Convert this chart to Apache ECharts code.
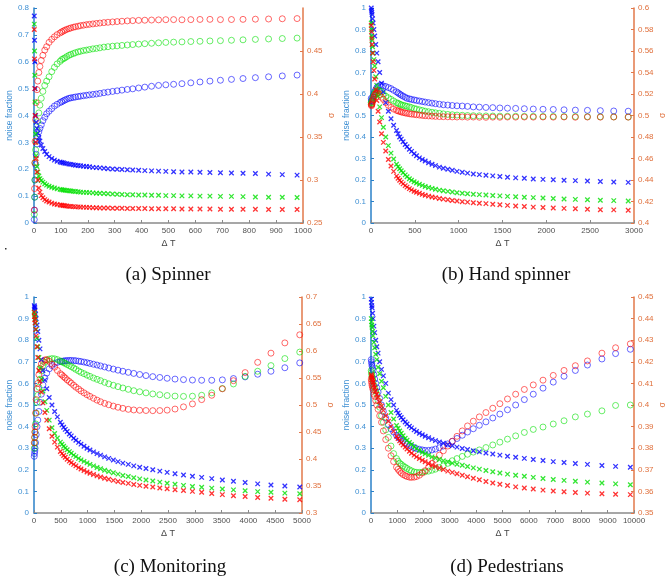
<!DOCTYPE html>
<html><head><meta charset="utf-8">
<script src="https://cdn.jsdelivr.net/npm/echarts@6/dist/echarts.min.js"></script>
<style>html,body{margin:0;padding:0;background:#fff}#c{width:668px;height:582px}</style>
</head><body><div id="c"></div>
<script>
// ---------- (a) Spinner ----------
const XA = [1,2,3,4,6,8,11,14,18,22,27,33,40,47,56,66,76,86,97,103,109,115,122,130,137,146,154,164,173,184,195,206,219,232,245,260,275,292,309,327,347,367,389,412,437,463,490,519,550,583,617,654,693,734,777,823,872,923,978];
const A_noise_blue = [0.77,0.68,0.6,0.5,0.4,0.375,0.352,0.335,0.318,0.305,0.29,0.277,0.266,0.256,0.247,0.24,0.234,0.23,0.227,0.225,0.224,0.222,0.221,0.219,0.218,0.217,0.215,0.214,0.213,0.211,0.21,0.209,0.207,0.206,0.205,0.204,0.202,0.201,0.2,0.199,0.198,0.197,0.196,0.195,0.194,0.193,0.192,0.191,0.19,0.19,0.189,0.188,0.187,0.186,0.185,0.184,0.182,0.18,0.178];
const A_noise_green = [0.74,0.64,0.55,0.45,0.33,0.25,0.21,0.19,0.175,0.165,0.158,0.152,0.146,0.141,0.137,0.133,0.13,0.127,0.125,0.124,0.123,0.122,0.121,0.12,0.119,0.118,0.117,0.116,0.115,0.114,0.114,0.113,0.112,0.111,0.111,0.11,0.109,0.108,0.107,0.106,0.105,0.105,0.104,0.104,0.103,0.103,0.102,0.102,0.101,0.101,0.1,0.1,0.099,0.099,0.098,0.097,0.096,0.096,0.095];
const A_noise_red = [0.72,0.61,0.5,0.4,0.3,0.24,0.19,0.16,0.13,0.115,0.102,0.094,0.087,0.082,0.078,0.074,0.071,0.069,0.067,0.066,0.065,0.064,0.063,0.062,0.062,0.061,0.06,0.06,0.059,0.059,0.058,0.058,0.057,0.057,0.056,0.056,0.056,0.055,0.055,0.055,0.054,0.054,0.054,0.054,0.053,0.053,0.053,0.053,0.052,0.052,0.052,0.052,0.051,0.051,0.051,0.051,0.05,0.05,0.05];
const A_sig_blue = [0.254,0.265,0.28,0.3,0.318,0.33,0.342,0.35,0.356,0.36,0.364,0.369,0.373,0.377,0.38,0.383,0.386,0.388,0.39,0.391,0.392,0.393,0.394,0.395,0.3955,0.396,0.3965,0.397,0.3975,0.398,0.3985,0.399,0.3995,0.4,0.4007,0.4015,0.4022,0.403,0.4037,0.4045,0.4053,0.406,0.407,0.408,0.409,0.41,0.4107,0.4113,0.412,0.413,0.414,0.415,0.416,0.417,0.418,0.419,0.42,0.421,0.422];
const A_sig_green = [0.26,0.28,0.3,0.32,0.335,0.345,0.358,0.368,0.378,0.387,0.395,0.403,0.41,0.415,0.42,0.426,0.431,0.435,0.438,0.44,0.441,0.442,0.4435,0.445,0.446,0.447,0.448,0.449,0.4497,0.4505,0.451,0.4517,0.4525,0.453,0.4537,0.4545,0.455,0.4556,0.456,0.4565,0.457,0.4575,0.458,0.4585,0.459,0.4595,0.46,0.4603,0.4606,0.461,0.4613,0.4617,0.462,0.4625,0.463,0.4635,0.464,0.4645,0.465];
const A_sig_red = [0.265,0.29,0.32,0.345,0.37,0.39,0.405,0.415,0.425,0.432,0.439,0.445,0.451,0.455,0.46,0.4635,0.4665,0.469,0.471,0.4722,0.4732,0.4742,0.4752,0.476,0.4768,0.4776,0.4782,0.4788,0.4795,0.48,0.4806,0.481,0.4815,0.482,0.4825,0.483,0.4834,0.4838,0.4842,0.4846,0.485,0.4853,0.4856,0.4858,0.486,0.4862,0.4864,0.4865,0.4863,0.4865,0.4867,0.4868,0.4865,0.4866,0.4868,0.487,0.4872,0.4875,0.4877];

// ---------- (b) Hand spinner ----------
const XB = [3,6,9,12,18,24,33,42,54,66,81,99,120,141,168,198,228,258,291,309,327,345,366,390,411,438,462,492,519,552,585,618,657,696,735,780,825,876,927,981,1041,1101,1167,1236,1311,1389,1470,1557,1650,1749,1851,1962,2079,2202,2331,2469,2616,2769,2934];
const B_noise_blue = [1.0,0.99,0.98,0.97,0.95,0.93,0.9,0.87,0.83,0.79,0.75,0.7,0.65,0.61,0.56,0.52,0.485,0.455,0.43,0.415,0.4,0.39,0.378,0.365,0.355,0.343,0.333,0.322,0.313,0.303,0.295,0.288,0.28,0.273,0.267,0.26,0.255,0.25,0.245,0.24,0.236,0.232,0.228,0.225,0.222,0.219,0.216,0.213,0.21,0.208,0.205,0.203,0.201,0.199,0.197,0.195,0.193,0.191,0.189];
const B_noise_green = [0.93,0.9,0.87,0.85,0.82,0.79,0.76,0.73,0.68,0.64,0.59,0.54,0.49,0.445,0.4,0.36,0.325,0.298,0.273,0.262,0.252,0.243,0.234,0.224,0.215,0.206,0.199,0.192,0.186,0.18,0.175,0.17,0.165,0.161,0.157,0.153,0.15,0.147,0.144,0.141,0.138,0.136,0.134,0.132,0.13,0.128,0.126,0.124,0.122,0.12,0.118,0.116,0.114,0.112,0.11,0.108,0.106,0.104,0.102];
const B_noise_red = [0.92,0.89,0.86,0.83,0.79,0.75,0.71,0.67,0.62,0.57,0.52,0.47,0.415,0.375,0.335,0.295,0.265,0.24,0.218,0.208,0.199,0.19,0.182,0.174,0.167,0.16,0.154,0.148,0.143,0.138,0.133,0.129,0.125,0.121,0.118,0.114,0.111,0.108,0.105,0.102,0.099,0.097,0.094,0.092,0.09,0.087,0.085,0.082,0.079,0.077,0.074,0.072,0.07,0.068,0.066,0.064,0.062,0.061,0.059];
const B_sig_blue = [0.516,0.514,0.513,0.514,0.516,0.518,0.52,0.522,0.524,0.526,0.527,0.528,0.528,0.5275,0.527,0.526,0.525,0.5235,0.522,0.521,0.52,0.519,0.518,0.517,0.516,0.5155,0.515,0.5145,0.514,0.5135,0.513,0.5125,0.512,0.5115,0.511,0.5105,0.51,0.5097,0.5093,0.509,0.5088,0.5085,0.508,0.5078,0.5075,0.5073,0.507,0.5068,0.5066,0.5063,0.506,0.5058,0.5056,0.5053,0.505,0.5048,0.5045,0.5042,0.504];
const B_sig_green = [0.512,0.511,0.512,0.513,0.515,0.517,0.519,0.521,0.522,0.523,0.5235,0.523,0.522,0.52,0.518,0.5165,0.515,0.5135,0.512,0.5113,0.5106,0.51,0.5095,0.509,0.5085,0.508,0.5073,0.5065,0.506,0.5053,0.5047,0.504,0.5035,0.503,0.5025,0.502,0.5015,0.501,0.5007,0.5004,0.5002,0.5,0.4998,0.4997,0.4996,0.4995,0.4994,0.4993,0.4993,0.4992,0.4992,0.4991,0.4991,0.499,0.499,0.4989,0.4988,0.4987,0.4986];
const B_sig_red = [0.51,0.509,0.51,0.511,0.513,0.515,0.517,0.519,0.52,0.521,0.521,0.5195,0.517,0.515,0.512,0.5095,0.5075,0.506,0.5048,0.5043,0.5038,0.5033,0.5028,0.5024,0.502,0.5016,0.5013,0.501,0.5007,0.5004,0.5001,0.4998,0.4996,0.4994,0.4992,0.499,0.4989,0.4988,0.4987,0.4986,0.4987,0.4985,0.4986,0.4984,0.4983,0.4985,0.4984,0.4986,0.4985,0.4986,0.4985,0.4986,0.4985,0.4986,0.4984,0.4986,0.4985,0.4986,0.4985];

// ---------- (c) Monitoring ----------
const XC = [5,10,15,20,30,41,56,71,91,112,137,167,203,238,284,335,385,436,492,522,553,583,619,659,695,740,781,832,877,933,989,1044,1110,1176,1242,1318,1394,1480,1567,1658,1759,1861,1972,2089,2216,2347,2484,2631,2789,2956,3128,3316,3514,3721,3939,4173,4421,4680,4958];
const C_noise_blue = [0.96,0.955,0.95,0.94,0.92,0.9,0.87,0.84,0.8,0.76,0.71,0.66,0.615,0.575,0.535,0.5,0.47,0.445,0.42,0.408,0.397,0.387,0.377,0.366,0.357,0.346,0.337,0.327,0.319,0.309,0.3,0.292,0.283,0.275,0.268,0.26,0.253,0.245,0.238,0.231,0.225,0.218,0.212,0.206,0.2,0.194,0.188,0.182,0.176,0.17,0.165,0.159,0.153,0.147,0.141,0.135,0.13,0.125,0.12];
const C_noise_green = [0.93,0.92,0.91,0.9,0.88,0.85,0.81,0.77,0.72,0.67,0.62,0.565,0.515,0.475,0.43,0.395,0.368,0.347,0.328,0.318,0.309,0.301,0.293,0.284,0.277,0.268,0.261,0.253,0.246,0.239,0.232,0.225,0.218,0.211,0.205,0.198,0.192,0.186,0.18,0.174,0.169,0.163,0.158,0.153,0.148,0.143,0.138,0.133,0.128,0.123,0.119,0.115,0.111,0.107,0.103,0.099,0.096,0.092,0.089];
const C_noise_red = [0.93,0.91,0.895,0.88,0.85,0.82,0.77,0.72,0.66,0.61,0.56,0.51,0.465,0.43,0.39,0.355,0.328,0.305,0.285,0.275,0.266,0.258,0.249,0.24,0.233,0.225,0.218,0.21,0.204,0.197,0.19,0.184,0.178,0.172,0.167,0.161,0.156,0.151,0.146,0.141,0.137,0.132,0.128,0.124,0.12,0.116,0.112,0.108,0.104,0.1,0.096,0.09,0.085,0.08,0.076,0.072,0.068,0.064,0.061];
const C_sig_blue = [0.405,0.41,0.415,0.42,0.43,0.445,0.46,0.472,0.488,0.505,0.52,0.537,0.55,0.559,0.567,0.573,0.577,0.579,0.5805,0.581,0.5815,0.582,0.5823,0.5825,0.5825,0.5823,0.582,0.5812,0.5805,0.5795,0.5783,0.577,0.5755,0.574,0.5723,0.5705,0.5685,0.5665,0.5645,0.5625,0.5605,0.5585,0.5565,0.5545,0.5525,0.551,0.5495,0.548,0.547,0.5462,0.5458,0.5458,0.5465,0.549,0.552,0.557,0.5625,0.569,0.578];
const C_sig_green = [0.42,0.43,0.44,0.45,0.465,0.485,0.505,0.518,0.533,0.548,0.563,0.573,0.579,0.583,0.585,0.586,0.5855,0.584,0.5815,0.58,0.5785,0.577,0.575,0.573,0.571,0.5685,0.566,0.563,0.5605,0.558,0.5553,0.553,0.55,0.5475,0.545,0.542,0.5392,0.5365,0.534,0.5315,0.529,0.5265,0.5245,0.5225,0.5205,0.519,0.5175,0.5165,0.516,0.5163,0.518,0.5225,0.5305,0.539,0.553,0.5625,0.573,0.586,0.598];
const C_sig_red = [0.43,0.44,0.45,0.46,0.485,0.51,0.53,0.54,0.556,0.568,0.576,0.581,0.5835,0.584,0.581,0.5755,0.57,0.564,0.558,0.5555,0.5525,0.55,0.5465,0.5435,0.5405,0.5365,0.533,0.5295,0.526,0.5225,0.519,0.516,0.5125,0.509,0.506,0.503,0.5005,0.498,0.4958,0.4938,0.492,0.4908,0.4902,0.4898,0.4895,0.4897,0.4905,0.4925,0.4965,0.502,0.51,0.518,0.53,0.545,0.56,0.579,0.596,0.615,0.63];

// ---------- (d) Pedestrians ----------
const XD = [10,20,30,40,60,80,110,140,180,220,270,330,400,470,560,660,760,860,970,1030,1090,1150,1220,1300,1370,1460,1540,1640,1730,1840,1950,2060,2190,2320,2450,2600,2750,2920,3090,3270,3470,3670,3890,4120,4370,4630,4900,5190,5500,5830,6170,6540,6930,7340,7770,8230,8780,9300,9860];
const D_noise_blue = [0.99,0.975,0.96,0.95,0.925,0.9,0.865,0.835,0.8,0.77,0.74,0.7,0.665,0.635,0.6,0.555,0.525,0.5,0.475,0.463,0.452,0.442,0.432,0.421,0.412,0.402,0.394,0.385,0.377,0.369,0.362,0.355,0.348,0.341,0.335,0.329,0.323,0.317,0.311,0.305,0.299,0.294,0.288,0.283,0.278,0.273,0.268,0.263,0.258,0.253,0.248,0.243,0.238,0.234,0.229,0.225,0.22,0.216,0.212];
const D_noise_green = [0.9,0.885,0.87,0.86,0.84,0.82,0.79,0.765,0.735,0.71,0.675,0.645,0.61,0.58,0.54,0.5,0.465,0.435,0.405,0.392,0.38,0.369,0.358,0.346,0.337,0.326,0.317,0.307,0.298,0.289,0.281,0.274,0.267,0.26,0.254,0.248,0.242,0.236,0.231,0.226,0.221,0.215,0.209,0.203,0.197,0.191,0.185,0.18,0.175,0.17,0.165,0.16,0.155,0.151,0.147,0.143,0.139,0.135,0.131];
const D_noise_red = [0.64,0.635,0.63,0.625,0.615,0.605,0.592,0.58,0.565,0.55,0.535,0.515,0.495,0.475,0.45,0.425,0.4,0.378,0.355,0.345,0.334,0.325,0.315,0.305,0.296,0.286,0.277,0.268,0.26,0.252,0.244,0.237,0.229,0.222,0.215,0.208,0.201,0.194,0.188,0.182,0.175,0.168,0.161,0.154,0.146,0.139,0.133,0.127,0.121,0.116,0.111,0.106,0.102,0.098,0.095,0.092,0.089,0.087,0.085];
const D_sig_blue = [0.421,0.42,0.419,0.418,0.417,0.416,0.414,0.412,0.41,0.408,0.406,0.403,0.4,0.397,0.394,0.391,0.389,0.3875,0.386,0.3853,0.3846,0.384,0.3833,0.3826,0.382,0.3813,0.3808,0.3802,0.3798,0.3795,0.3792,0.379,0.379,0.3792,0.3796,0.3802,0.381,0.382,0.3832,0.3845,0.386,0.3875,0.389,0.3906,0.3922,0.394,0.3958,0.3978,0.4,0.4025,0.405,0.4078,0.4106,0.4133,0.416,0.4185,0.4213,0.4238,0.4258];
const D_sig_green = [0.416,0.415,0.414,0.413,0.412,0.411,0.409,0.408,0.4065,0.405,0.402,0.399,0.395,0.392,0.3885,0.385,0.381,0.3775,0.3752,0.374,0.373,0.3725,0.3718,0.3712,0.3706,0.37,0.3695,0.369,0.3688,0.3688,0.3689,0.3691,0.3694,0.3698,0.3703,0.371,0.3718,0.373,0.3742,0.3752,0.3762,0.3772,0.3782,0.3792,0.3803,0.3815,0.3828,0.3842,0.3857,0.3873,0.3887,0.3898,0.3912,0.3927,0.3945,0.3958,0.3973,0.3998,0.4];
const D_sig_red = [0.412,0.411,0.41,0.409,0.408,0.407,0.405,0.404,0.402,0.4,0.398,0.395,0.392,0.388,0.384,0.38,0.3765,0.3738,0.3712,0.3702,0.3693,0.3685,0.3678,0.3673,0.3669,0.3666,0.3665,0.3666,0.3669,0.3675,0.3685,0.3696,0.3712,0.373,0.3748,0.3768,0.3788,0.381,0.3832,0.3855,0.388,0.3903,0.3925,0.3945,0.3965,0.3985,0.4006,0.4028,0.405,0.4072,0.4093,0.4115,0.4137,0.416,0.4182,0.4204,0.424,0.4265,0.4283];

const CAPTIONS = ['(a) Spinner', '(b) Hand spinner', '(c) Monitoring', '(d) Pedestrians'];
const X_NAME = 'Δ T', LEFT_NAME = 'noise fraction', RIGHT_NAME = 'σ';

const panels = [
  {x: XA, noise: [A_noise_blue, A_noise_green, A_noise_red], sig: [A_sig_blue, A_sig_green, A_sig_red],
   xmax: 1000, xint: 100, ymax: 0.8, smin: 0.25, smax: 0.5, sint: 0.05, hideTop: true,
   grid: {left: 34, top: 8, width: 269, height: 215}, cap: [168, 275]},
  {x: XB, noise: [B_noise_blue, B_noise_green, B_noise_red], sig: [B_sig_blue, B_sig_green, B_sig_red],
   xmax: 3000, xint: 500, ymax: 1, smin: 0.4, smax: 0.6, sint: 0.02, hideTop: false,
   grid: {left: 371, top: 8, width: 269, height: 215}, cap: [506, 275]},
  {x: XC, noise: [C_noise_blue, C_noise_green, C_noise_red], sig: [C_sig_blue, C_sig_green, C_sig_red],
   xmax: 5000, xint: 500, ymax: 1, smin: 0.3, smax: 0.7, sint: 0.05, hideTop: false,
   grid: {left: 34, top: 297, width: 268, height: 216}, cap: [170, 567]},
  {x: XD, noise: [D_noise_blue, D_noise_green, D_noise_red], sig: [D_sig_blue, D_sig_green, D_sig_red],
   xmax: 10000, xint: 1000, ymax: 1, smin: 0.35, smax: 0.45, sint: 0.01, hideTop: false,
   grid: {left: 371, top: 297, width: 269, height: 216}, cap: [507, 567]}
];

const COLORS = ['#0000ff', '#00e000', '#ff0000'];
const FONT = 'Liberation Sans, Arial, sans-serif';
const LEFT_C = '#2a80c8', LEFT_TXT = '#3f90d4';
const RIGHT_C = '#e2784a', RIGHT_TXT = '#e0703c';
const XCOL = '#8a8a8a', XTXT = '#505050';
const CROSS = 'path://M0,0L10,10M10,0L0,10';
const plain = v => String(+v.toFixed(4));

const grids = [], xAxes = [], yAxes = [], series = [], graphics = [];
panels.forEach((p, i) => {
  grids.push(Object.assign({containLabel: false, show: false}, p.grid));
  xAxes.push({
    type: 'value', gridIndex: i, min: 0, max: p.xmax, interval: p.xint,
    name: X_NAME, nameLocation: 'middle', nameGap: 16,
    nameTextStyle: {fontFamily: FONT, fontSize: 9, color: '#444'},
    axisLine: {onZero: false, lineStyle: {color: XCOL, width: 1.5}},
    axisTick: {inside: true, length: 3, lineStyle: {color: XCOL}},
    axisLabel: {fontFamily: FONT, fontSize: 8, color: XTXT, margin: 4, formatter: plain},
    splitLine: {show: false}
  });
  yAxes.push({
    type: 'value', gridIndex: i, position: 'left', min: 0, max: p.ymax, interval: 0.1,
    name: LEFT_NAME, nameLocation: 'middle', nameGap: 19,
    nameTextStyle: {fontFamily: FONT, fontSize: 8.5, color: LEFT_TXT},
    axisLine: {show: true, onZero: false, lineStyle: {color: LEFT_C, width: 1.5}},
    axisTick: {show: true, inside: true, length: 3, lineStyle: {color: LEFT_C}},
    axisLabel: {fontFamily: FONT, fontSize: 8, color: LEFT_TXT, margin: 5, formatter: plain},
    splitLine: {show: false}
  });
  yAxes.push({
    type: 'value', gridIndex: i, position: 'right', min: p.smin, max: p.smax, interval: p.sint,
    name: RIGHT_NAME, nameLocation: 'middle', nameGap: 24,
    nameTextStyle: {fontFamily: FONT, fontSize: 8.5, color: RIGHT_TXT},
    axisLine: {show: true, onZero: false, lineStyle: {color: RIGHT_C, width: 1.5}},
    axisTick: {show: true, inside: true, length: 3, lineStyle: {color: RIGHT_C}},
    axisLabel: {fontFamily: FONT, fontSize: 8, color: RIGHT_TXT, margin: 4, showMaxLabel: !p.hideTop, formatter: plain},
    splitLine: {show: false}
  });
  for (let c = 0; c < 3; c++) {
    series.push({
      type: 'scatter', xAxisIndex: i, yAxisIndex: 2 * i + 1, symbol: 'circle', symbolSize: 6,
      itemStyle: {color: 'rgba(0,0,0,0)', borderColor: COLORS[c], borderWidth: 0.7, opacity: 0.85},
      data: p.x.map((v, k) => [v, p.sig[c][k]]), silent: true, clip: false
    });
  }
  for (let c = 0; c < 3; c++) {
    series.push({
      type: 'scatter', xAxisIndex: i, yAxisIndex: 2 * i, symbol: CROSS, symbolSize: 4.5,
      itemStyle: {color: 'rgba(0,0,0,0)', borderColor: COLORS[c], borderWidth: 1.3},
      data: p.x.map((v, k) => [v, p.noise[c][k]]), silent: true, clip: false
    });
  }
  graphics.push({
    type: 'text', x: p.cap[0], y: p.cap[1],
    style: {text: CAPTIONS[i], font: '19px "Liberation Serif", "Times New Roman", serif', fill: '#111',
      textAlign: 'center', textVerticalAlign: 'middle'}
  });
});
graphics.push({type: 'rect', shape: {x: 5, y: 248, width: 1.5, height: 1.5}, style: {fill: '#333'}});

const chart = echarts.init(document.getElementById('c'), null, {renderer: 'canvas'});
chart.setOption({
  animation: false,
  textStyle: {fontFamily: FONT},
  grid: grids, xAxis: xAxes, yAxis: yAxes, series: series, graphic: graphics
});
</script></body></html>
